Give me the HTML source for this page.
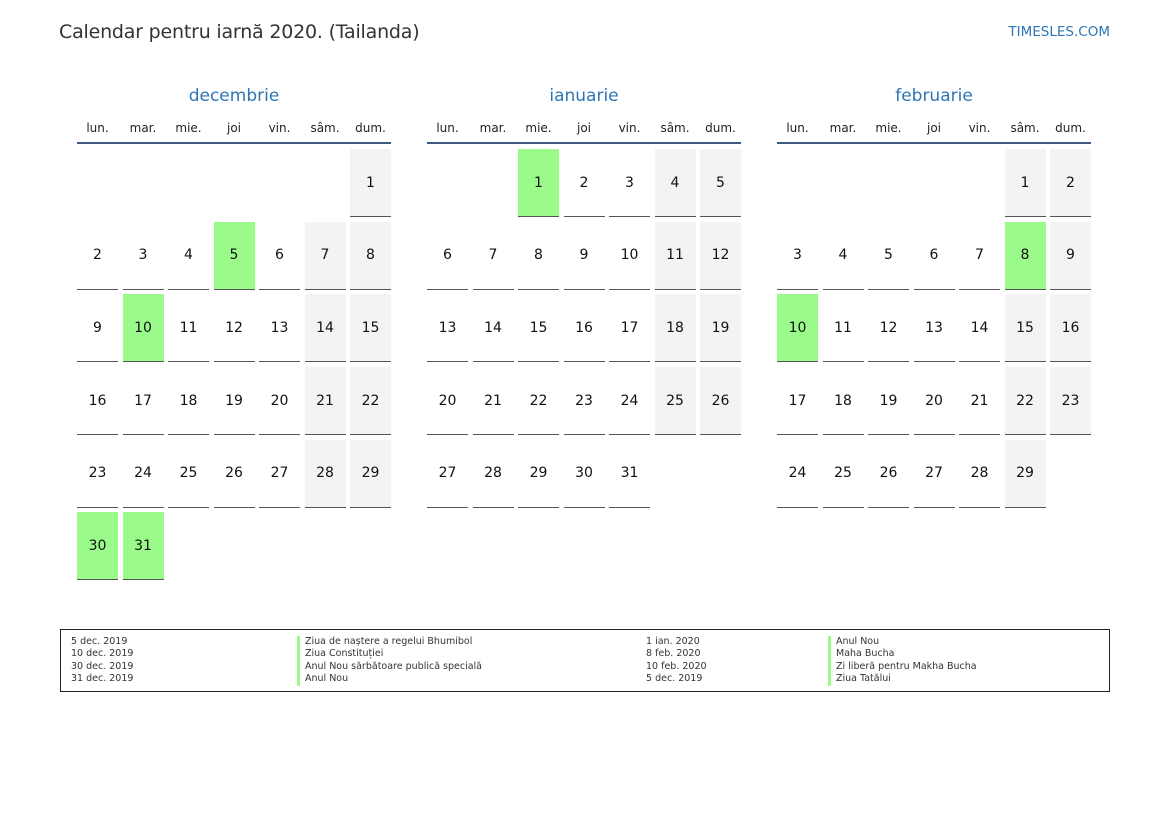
<!DOCTYPE html>
<html><head><meta charset="utf-8"><style>
*{margin:0;padding:0;box-sizing:border-box}
body{width:1169px;height:827px;background:#fff;font-family:"DejaVu Sans","Liberation Sans",sans-serif;position:relative;overflow:hidden;color:#222}
.t{position:absolute;left:59px;top:21px;font-size:19px;color:#333;letter-spacing:-0.2px}
.s{position:absolute;right:59px;top:24px;font-size:13.5px;color:#2e75b6}
.m{position:absolute;top:86px;width:314px}
.mt{text-align:center;font-size:17px;color:#2e75b6;height:24px}
.dn{display:grid;grid-template-columns:repeat(7,41px);column-gap:4.5px;font-size:12px;text-align:center;margin-top:11px;height:23px;border-bottom:2px solid #3d5a80}
.g{display:grid;grid-template-columns:repeat(7,41px);grid-auto-rows:68px;column-gap:4.5px;row-gap:4.7px;margin-top:5px}
.g i{font-style:normal;font-size:14px;display:flex;align-items:center;justify-content:center;border-bottom:1px solid #555;color:#111}
.g b{display:block}
.g i.w{background:#f3f3f3}
.g i.h{background:#9afa8a}
.lg{position:absolute;left:60px;top:629px;width:1050px;height:63px;border:1.5px solid #222;font-size:9.5px;color:#333}
.lg div{position:absolute;line-height:12.4px}
.bar{border-left:3px solid #9afa8a;padding-left:5px}
</style></head><body>
<div class="t">Calendar pentru iarnă 2020. (Tailanda)</div>
<div class="s">TIMESLES.COM</div>

<div class="m" style="left:77px"><div class="mt">decembrie</div>
<div class="dn"><span>lun.</span><span>mar.</span><span>mie.</span><span>joi</span><span>vin.</span><span>sâm.</span><span>dum.</span></div>
<div class="g"><b></b><b></b><b></b><b></b><b></b><b></b><i class="w">1</i>
<i>2</i><i>3</i><i>4</i><i class="h">5</i><i>6</i><i class="w">7</i><i class="w">8</i>
<i>9</i><i class="h">10</i><i>11</i><i>12</i><i>13</i><i class="w">14</i><i class="w">15</i>
<i>16</i><i>17</i><i>18</i><i>19</i><i>20</i><i class="w">21</i><i class="w">22</i>
<i>23</i><i>24</i><i>25</i><i>26</i><i>27</i><i class="w">28</i><i class="w">29</i>
<i class="h">30</i><i class="h">31</i></div></div>

<div class="m" style="left:427px"><div class="mt">ianuarie</div>
<div class="dn"><span>lun.</span><span>mar.</span><span>mie.</span><span>joi</span><span>vin.</span><span>sâm.</span><span>dum.</span></div>
<div class="g"><b></b><b></b><i class="h">1</i><i>2</i><i>3</i><i class="w">4</i><i class="w">5</i>
<i>6</i><i>7</i><i>8</i><i>9</i><i>10</i><i class="w">11</i><i class="w">12</i>
<i>13</i><i>14</i><i>15</i><i>16</i><i>17</i><i class="w">18</i><i class="w">19</i>
<i>20</i><i>21</i><i>22</i><i>23</i><i>24</i><i class="w">25</i><i class="w">26</i>
<i>27</i><i>28</i><i>29</i><i>30</i><i>31</i></div></div>

<div class="m" style="left:777px"><div class="mt">februarie</div>
<div class="dn"><span>lun.</span><span>mar.</span><span>mie.</span><span>joi</span><span>vin.</span><span>sâm.</span><span>dum.</span></div>
<div class="g"><b></b><b></b><b></b><b></b><b></b><i class="w">1</i><i class="w">2</i>
<i>3</i><i>4</i><i>5</i><i>6</i><i>7</i><i class="h">8</i><i class="w">9</i>
<i class="h">10</i><i>11</i><i>12</i><i>13</i><i>14</i><i class="w">15</i><i class="w">16</i>
<i>17</i><i>18</i><i>19</i><i>20</i><i>21</i><i class="w">22</i><i class="w">23</i>
<i>24</i><i>25</i><i>26</i><i>27</i><i>28</i><i class="w">29</i></div></div>

<div class="lg">
<div style="left:10px;top:6px">5 dec. 2019<br>10 dec. 2019<br>30 dec. 2019<br>31 dec. 2019</div>
<div style="left:236px;top:6px" class="bar">Ziua de naștere a regelui Bhumibol<br>Ziua Constituției<br>Anul Nou sărbătoare publică specială<br>Anul Nou</div>
<div style="left:585px;top:6px">1 ian. 2020<br>8 feb. 2020<br>10 feb. 2020<br>5 dec. 2019</div>
<div style="left:767px;top:6px" class="bar">Anul Nou<br>Maha Bucha<br>Zi liberă pentru Makha Bucha<br>Ziua Tatălui</div>
</div>
</body></html>
